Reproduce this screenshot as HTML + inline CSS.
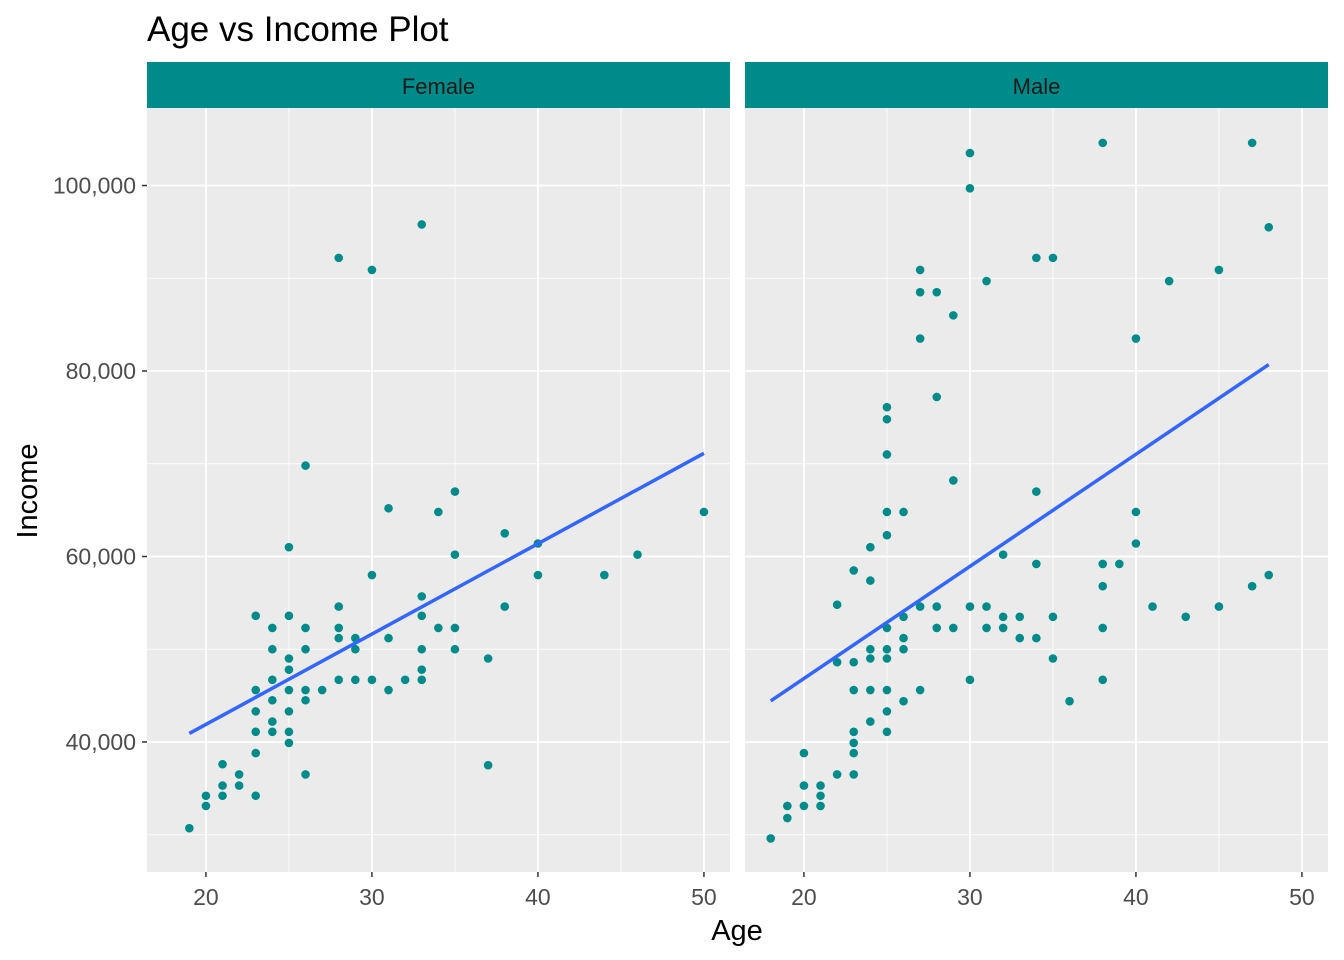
<!DOCTYPE html>
<html><head><meta charset="utf-8"><style>
body{margin:0;background:#fff;}
svg{display:block;font-family:"Liberation Sans",sans-serif;}
</style></head><body>
<svg id="chart" width="1344" height="960"></svg>
<script>
const femaleAge=[19,20,20,21,21,21,22,22,23,23,23,23,23,23,24,24,24,24,24,24,25,25,25,25,25,25,25,25,26,26,26,26,26,26,27,28,28,28,28,28,29,29,29,30,30,30,31,31,31,32,33,33,33,33,33,33,34,34,35,35,35,35,37,37,38,38,40,40,44,46,50];
const femaleIncome=[30.7,34.2,33.1,37.6,35.3,34.2,36.5,35.3,53.6,45.6,43.3,41.1,38.8,34.2,52.3,50,46.7,44.5,42.2,41.1,61,53.6,49,47.8,45.6,43.3,41.1,39.9,69.8,52.3,50,45.6,44.5,36.5,45.6,92.2,54.6,52.3,51.2,46.7,51.2,50,46.7,90.9,58,46.7,65.2,51.2,45.6,46.7,95.8,55.7,53.6,50,47.8,46.7,64.8,52.3,67,60.2,52.3,50,49,37.5,62.5,54.6,61.4,58,58,60.2,64.8];
const maleAge=[18,19,19,20,20,20,21,21,21,22,22,22,23,23,23,23,23,23,23,24,24,24,24,24,24,25,25,25,25,25,25,25,25,25,25,25,26,26,26,26,26,27,27,27,27,27,28,28,28,28,29,29,29,30,30,30,30,31,31,31,32,32,32,33,33,34,34,34,34,35,35,35,36,38,38,38,38,38,39,40,40,40,41,42,43,45,45,47,47,48,48];
const maleIncome=[29.6,33.1,31.8,38.8,35.3,33.1,35.3,34.2,33.1,54.8,48.6,36.5,58.5,48.6,45.6,41.1,39.9,38.8,36.5,61,57.4,50,49,45.6,42.2,76.1,74.8,71,64.8,62.3,52.3,50,49,45.6,43.3,41.1,64.8,53.5,51.2,50,44.4,90.9,88.5,83.5,54.6,45.6,88.5,77.2,54.6,52.3,86,68.2,52.3,103.5,99.7,54.6,46.7,89.7,54.6,52.3,60.2,53.5,52.3,53.5,51.2,92.2,67,59.2,51.2,92.2,53.5,49,44.4,104.6,59.2,56.8,52.3,46.7,59.2,83.5,64.8,61.4,54.6,89.7,53.5,90.9,54.6,104.6,56.8,95.5,58];
const xTicks=[20,30,40,50];
const yTicks=[40000,60000,80000,100000];
const yTickLabels=["40,000","60,000","80,000","100,000"];

const NS="http://www.w3.org/2000/svg";
const svg=document.getElementById('chart');
function mk(tag,attrs,parent){const e=document.createElementNS(NS,tag);for(const k in attrs)e.setAttribute(k,attrs[k]);(parent||svg).appendChild(e);return e;}
const plotTop=108,plotBot=872;
const yMin=25.98,yMax=108.36;
const yS=v=>plotBot-(v-yMin)/(yMax-yMin)*(plotBot-plotTop);
const xMin=16.45,xMax=51.57;

let t=mk('text',{x:147,y:41,'font-size':35,fill:'#000'});t.textContent='Age vs Income Plot';



const panels=[{name:'Female',x0:147,x1:730,ages:femaleAge,inc:femaleIncome},{name:'Male',x0:745,x1:1328,ages:maleAge,inc:maleIncome}];
panels.forEach(p=>{
  const xS=v=>p.x0+(v-xMin)/(xMax-xMin)*(p.x1-p.x0);
  const g=mk('g',{});
  
  
  mk('rect',{x:p.x0,y:plotTop,width:p.x1-p.x0,height:plotBot-plotTop,fill:'#ebebeb'},g);
  [30,50,70,90].forEach(v=>mk('line',{x1:p.x0,x2:p.x1,y1:yS(v),y2:yS(v),stroke:'#fff','stroke-width':0.8},g));
  [25,35,45].forEach(v=>mk('line',{x1:xS(v),x2:xS(v),y1:plotTop,y2:plotBot,stroke:'#fff','stroke-width':0.8},g));
  yTicks.forEach(v=>mk('line',{x1:p.x0,x2:p.x1,y1:yS(v/1000),y2:yS(v/1000),stroke:'#fff','stroke-width':1.8},g));
  xTicks.forEach(v=>{
    mk('line',{x1:xS(v),x2:xS(v),y1:plotTop,y2:plotBot,stroke:'#fff','stroke-width':1.8},g);
    mk('line',{x1:xS(v),x2:xS(v),y1:plotBot,y2:plotBot+5,stroke:'#333','stroke-width':1.5},g);
    const tl=mk('text',{x:xS(v),y:plotBot+33,'font-size':23,fill:'#4d4d4d','text-anchor':'middle'},g);tl.textContent=v;
    
    
  });
  const s=mk('rect',{x:p.x0,y:62,width:p.x1-p.x0,height:46,fill:'#008b8b'},g);
  
  
  const st=mk('text',{x:(p.x0+p.x1)/2,y:94,'font-size':22,fill:'#1a1a1a','text-anchor':'middle'},g);st.textContent=p.name;
  
  
  p.ages.forEach((a,i)=>{
    const c=mk('circle',{cx:xS(a),cy:yS(p.inc[i]),r:4.3,fill:'#008b8b'},g);
    
    
  });
  const n=p.ages.length;const mx=p.ages.reduce((a,b)=>a+b)/n;const my=p.inc.reduce((a,b)=>a+b)/n;
  let sxy=0,sxx=0;p.ages.forEach((a,i)=>{sxy+=(a-mx)*(p.inc[i]-my);sxx+=(a-mx)*(a-mx);});
  const b=sxy/sxx,a0=my-b*mx;const amin=Math.min(...p.ages),amax=Math.max(...p.ages);
  const l=mk('line',{x1:xS(amin),y1:yS(a0+b*amin),x2:xS(amax),y2:yS(a0+b*amax),stroke:'#3366ff','stroke-width':3.5},g);
  
  
});
yTicks.forEach((v,i)=>{
  mk('line',{x1:142,x2:147,y1:yS(v/1000),y2:yS(v/1000),stroke:'#333','stroke-width':1.5});
  const tl=mk('text',{x:136,y:yS(v/1000)+8,'font-size':23,fill:'#4d4d4d','text-anchor':'end'});tl.textContent=yTickLabels[i];
  
  
});
const xt=mk('text',{x:737,y:940,'font-size':29,fill:'#000','text-anchor':'middle'});xt.textContent='Age';


const yt=mk('text',{x:37,y:491,'font-size':29,fill:'#000','text-anchor':'middle',transform:'rotate(-90 37 491)'});yt.textContent='Income';


</script>
</body></html>
